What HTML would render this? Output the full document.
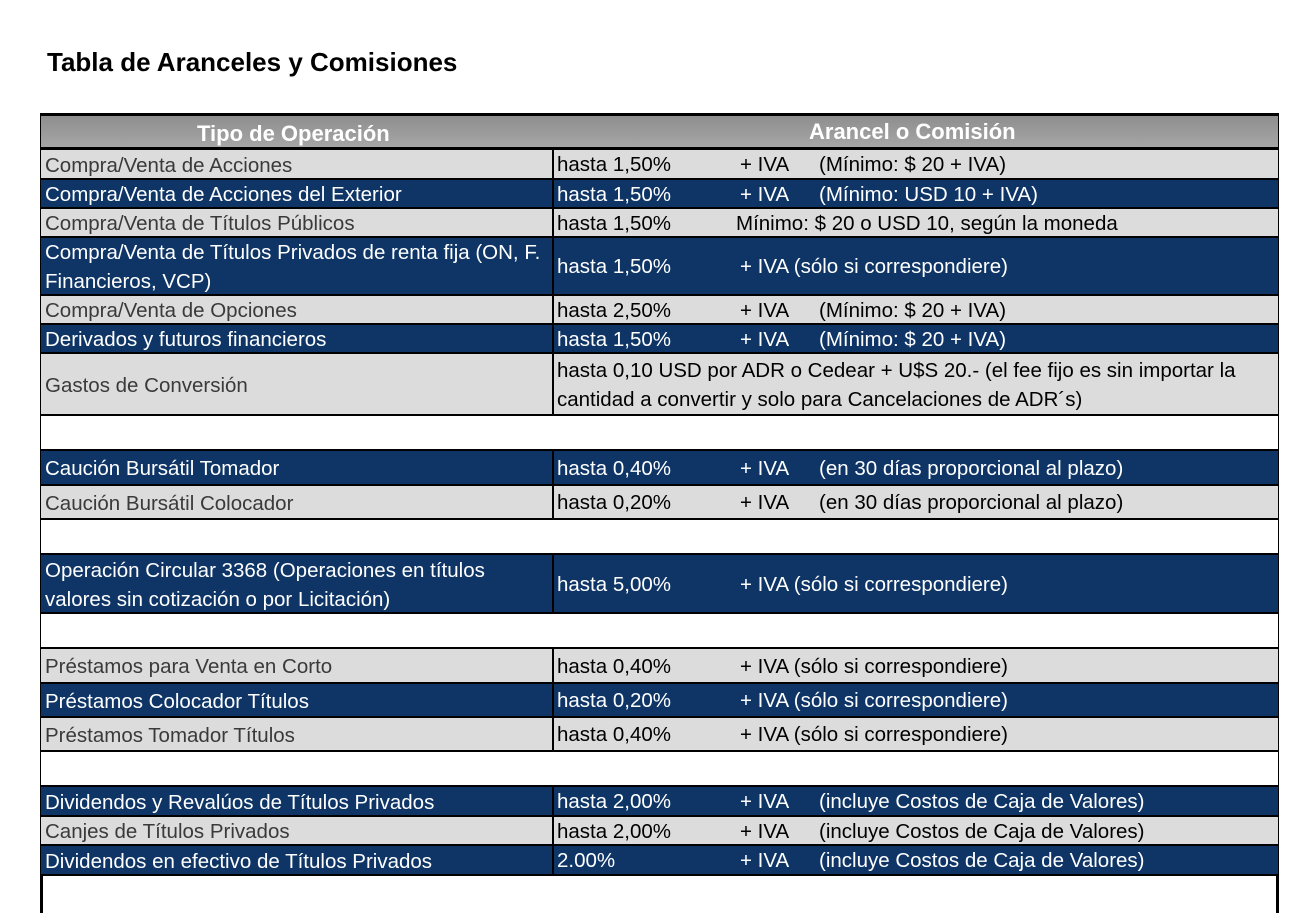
<!DOCTYPE html>
<html><head><meta charset="utf-8"><style>
body{margin:0;width:1300px;height:902px;background:#fff;position:relative;overflow:hidden;font-family:"Liberation Sans",sans-serif;}
.t{position:absolute;left:47px;top:47px;font-weight:bold;font-size:26px;color:#000;}
.tbl{position:absolute;left:40px;top:113px;width:1239px;height:800px;border:3px solid #000;border-bottom:none;box-sizing:border-box;}
.r{position:absolute;left:41px;width:1237px;box-sizing:border-box;border-bottom:2px solid #000;font-size:20.5px;}
.n{background:#0e3566;color:#fff;}
.g{background:#dcdcdc;color:#3a3a3a;}
.w{background:#fff;}
.c1{position:absolute;left:4px;top:2px;bottom:0;width:505px;display:flex;align-items:center;line-height:29px;white-space:nowrap;}
.div{position:absolute;left:511px;top:0;bottom:0;border-left:2px solid #000;}
.c2{position:absolute;left:516px;top:2px;bottom:0;right:0;display:flex;align-items:center;line-height:29px;white-space:nowrap;}
.g .c2{color:#000;}
.a{position:absolute;left:516px;top:2px;bottom:0;display:flex;align-items:center;}
.b{position:absolute;left:699px;top:2px;bottom:0;display:flex;align-items:center;}
.c{position:absolute;left:778px;top:2px;bottom:0;display:flex;align-items:center;}
.g .a,.g .b,.g .c{color:#000;}
.h{position:absolute;left:41px;top:116px;width:1237px;height:34px;background:linear-gradient(#8e8e8e,#a6a6a6);border-bottom:3px solid #000;box-sizing:border-box;color:#fff;font-weight:bold;font-size:22px;}
</style></head><body>
<div class="t">Tabla de Aranceles y Comisiones</div>
<div class="tbl"></div>
<div class="h"><span style="position:absolute;left:156px;top:5px">Tipo de Operación</span><span style="position:absolute;left:768px;top:3px">Arancel o Comisión</span></div>

<div class="r g" style="top:150px;height:30px"><div class="c1">Compra/Venta de Acciones</div><div class="div"></div><div class="a">hasta 1,50%</div><div class="b">+ IVA</div><div class="c">(Mínimo: $ 20 + IVA)</div></div>
<div class="r n" style="top:180px;height:29px"><div class="c1">Compra/Venta de Acciones del Exterior</div><div class="div"></div><div class="a">hasta 1,50%</div><div class="b">+ IVA</div><div class="c">(Mínimo: USD 10 + IVA)</div></div>
<div class="r g" style="top:209px;height:29px"><div class="c1">Compra/Venta de Títulos Públicos</div><div class="div"></div><div class="a">hasta 1,50%</div><div class="b" style="left:695px">Mínimo: $ 20 o USD 10, según la moneda</div></div>
<div class="r n" style="top:238px;height:58px"><div class="c1">Compra/Venta de Títulos Privados de renta fija (ON, F.<br>Financieros, VCP)</div><div class="div"></div><div class="a">hasta 1,50%</div><div class="b">+ IVA (sólo si correspondiere)</div></div>
<div class="r g" style="top:296px;height:29px"><div class="c1">Compra/Venta de Opciones</div><div class="div"></div><div class="a">hasta 2,50%</div><div class="b">+ IVA</div><div class="c">(Mínimo: $ 20 + IVA)</div></div>
<div class="r n" style="top:325px;height:29px"><div class="c1">Derivados y futuros financieros</div><div class="div"></div><div class="a">hasta 1,50%</div><div class="b">+ IVA</div><div class="c">(Mínimo: $ 20 + IVA)</div></div>
<div class="r g" style="top:354px;height:62px"><div class="c1">Gastos de Conversión</div><div class="div"></div><div class="c2">hasta 0,10 USD por ADR o Cedear + U$S 20.- (el fee fijo es sin importar la<br>cantidad a convertir y solo para Cancelaciones de ADR´s)</div></div>
<div class="r w" style="top:416px;height:35px"></div>
<div class="r n" style="top:451px;height:35px"><div class="c1">Caución Bursátil Tomador</div><div class="div"></div><div class="a">hasta 0,40%</div><div class="b">+ IVA</div><div class="c">(en 30 días proporcional al plazo)</div></div>
<div class="r g" style="top:486px;height:34px"><div class="c1">Caución Bursátil Colocador</div><div class="div"></div><div class="a">hasta 0,20%</div><div class="b">+ IVA</div><div class="c">(en 30 días proporcional al plazo)</div></div>
<div class="r w" style="top:520px;height:35px"></div>
<div class="r n" style="top:555px;height:59px"><div class="c1">Operación Circular 3368 (Operaciones en títulos<br>valores sin cotización o por Licitación)</div><div class="div"></div><div class="a">hasta 5,00%</div><div class="b">+ IVA (sólo si correspondiere)</div></div>
<div class="r w" style="top:614px;height:35px"></div>
<div class="r g" style="top:649px;height:35px"><div class="c1">Préstamos para Venta en Corto</div><div class="div"></div><div class="a">hasta 0,40%</div><div class="b">+ IVA (sólo si correspondiere)</div></div>
<div class="r n" style="top:684px;height:34px"><div class="c1">Préstamos Colocador Títulos</div><div class="div"></div><div class="a">hasta 0,20%</div><div class="b">+ IVA (sólo si correspondiere)</div></div>
<div class="r g" style="top:718px;height:34px"><div class="c1">Préstamos Tomador Títulos</div><div class="div"></div><div class="a">hasta 0,40%</div><div class="b">+ IVA (sólo si correspondiere)</div></div>
<div class="r w" style="top:752px;height:35px"></div>
<div class="r n" style="top:787px;height:30px"><div class="c1">Dividendos y Revalúos de Títulos Privados</div><div class="div"></div><div class="a">hasta 2,00%</div><div class="b">+ IVA</div><div class="c">(incluye Costos de Caja de Valores)</div></div>
<div class="r g" style="top:817px;height:29px"><div class="c1">Canjes de Títulos Privados</div><div class="div"></div><div class="a">hasta 2,00%</div><div class="b">+ IVA</div><div class="c">(incluye Costos de Caja de Valores)</div></div>
<div class="r n" style="top:846px;height:30px"><div class="c1">Dividendos en efectivo de Títulos Privados</div><div class="div"></div><div class="a">2.00%</div><div class="b">+ IVA</div><div class="c">(incluye Costos de Caja de Valores)</div></div>
</body></html>
